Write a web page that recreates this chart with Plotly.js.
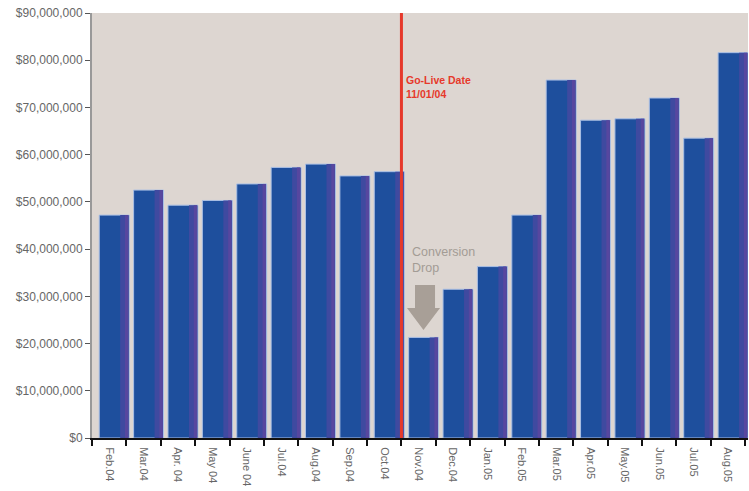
<!DOCTYPE html>
<html><head><meta charset="utf-8">
<script src="https://cdn.plot.ly/plotly-3.0.1.min.js"></script>
<style>html,body{margin:0;padding:0;background:#fff;}#chart{width:749px;height:491px;}</style>
</head><body><div id="chart"></div>
<script>
const months = ["Feb.04","Mar.04","Apr. 04","May 04","June 04","Jul.04","Aug.04","Sep.04","Oct.04","Nov.04","Dec.04","Jan.05","Feb.05","Mar.05","Apr.05","May.05","Jun.05","Jul.05","Aug.05"];
const revenue = [47200000,52500000,49300000,50300000,53800000,57300000,58000000,55500000,56400000,21300000,31500000,36300000,47200000,75800000,67300000,67600000,72000000,63500000,81600000];
const yTickVals = [0,10000000,20000000,30000000,40000000,50000000,60000000,70000000,80000000,90000000];
const yTickText = ["$0","$10,000,000","$20,000,000","$30,000,000","$40,000,000","$50,000,000","$60,000,000","$70,000,000","$80,000,000","$90,000,000"];
const goLiveText = "Go-Live Date<br>11/01/04";
const dropText = "Conversion<br>Drop";

const front = {
  type: "bar", x: months, y: revenue, width: 0.87, offset: -0.29,
  marker: {color: "#1e4f9d", line: {color: "#a9bfe4", width: 1}},
  hoverinfo: "skip"
};
const side = {
  type: "bar", x: months, y: revenue, width: 0.24, offset: 0.32,
  marker: {color: "#3f4aa0", line: {width: 0}},
  hoverinfo: "skip"
};
const edge = {
  type: "bar", x: months, y: revenue, width: 0.1, offset: 0.46,
  marker: {color: "#57479f", line: {width: 0}},
  hoverinfo: "skip"
};
const layout = {
  width: 749, height: 491,
  margin: {l: 92, r: 1, t: 13, b: 53},
  paper_bgcolor: "#ffffff", plot_bgcolor: "#ddd6d1",
  barmode: "overlay", showlegend: false,
  font: {family: "Liberation Sans, Arial, sans-serif", size: 11, color: "#666"},
  xaxis: {
    type: "category", tickangle: 90, tickson: "boundaries",
    ticks: "outside", ticklen: 6, tickwidth: 2, tickcolor: "#111",
    showline: true, linecolor: "#111", linewidth: 2, ticklabelstandoff: 5,
    showgrid: false, tickfont: {size: 11, color: "#666"}
  },
  yaxis: {
    range: [0, 90000000], tickvals: yTickVals, ticktext: yTickText,
    ticks: "outside", ticklen: 5, tickwidth: 1, tickcolor: "#555",
    showline: true, linecolor: "#999", linewidth: 2,
    showgrid: false, zeroline: false, tickfont: {size: 12, color: "#666"}
  },
  shapes: [
    {type: "line", xref: "x", yref: "paper", x0: 8.5, x1: 8.5, y0: 0, y1: 1,
     line: {color: "#e6392b", width: 3}},
    {type: "path", xref: "paper", yref: "paper",
     path: "M 0.4924 0.36 L 0.5229 0.36 L 0.5229 0.3059 L 0.5305 0.3059 L 0.5053 0.2541 L 0.4802 0.3059 L 0.4924 0.3059 Z",
     fillcolor: "#a89f97", line: {width: 0}}
  ],
  annotations: [
    {xref: "x", yref: "y", x: 8.56, y: 77500000, xanchor: "left", yanchor: "top",
     text: "<b>" + goLiveText + "</b>", showarrow: false, align: "left",
     font: {color: "#e6392b", size: 10.5}},
    {xref: "x", yref: "y", x: 8.76, y: 41200000, xanchor: "left", yanchor: "top",
     text: dropText, showarrow: false, align: "left",
     font: {color: "#a39c95", size: 12.5}}
  ]
};
Plotly.newPlot("chart", [front, side, edge], layout, {displayModeBar: false, staticPlot: true});
</script></body></html>
